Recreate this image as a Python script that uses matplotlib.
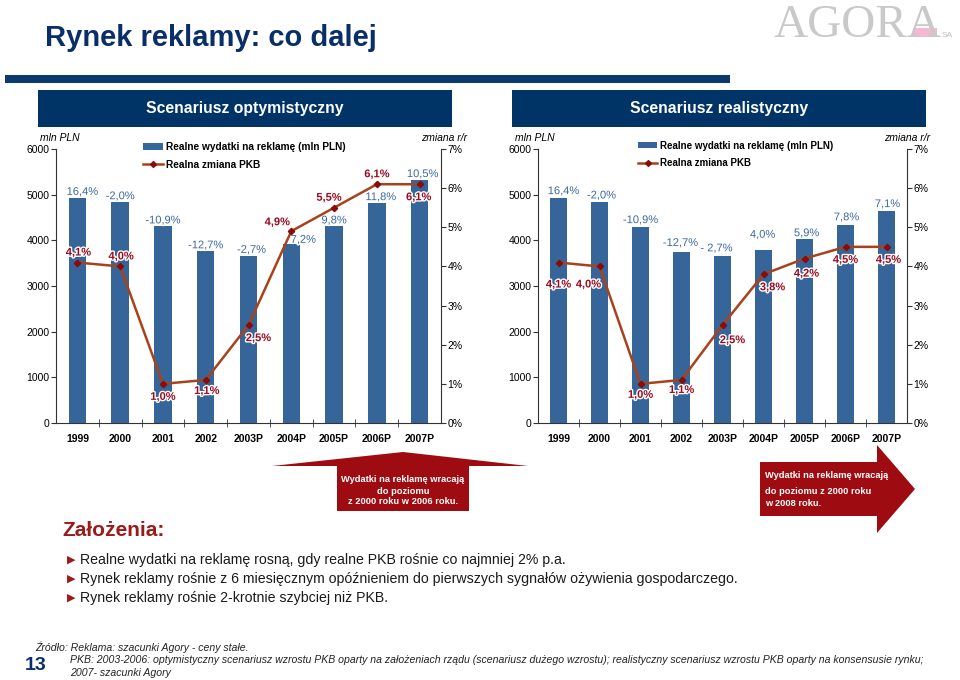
import matplotlib
matplotlib.use('Agg')
import matplotlib.pyplot as plt
import matplotlib.patheffects as pe
from matplotlib.patches import Rectangle, Polygon, Patch
from matplotlib.lines import Line2D
import numpy as np

plt.rcParams['font.family'] = ['Liberation Sans', 'DejaVu Sans']

# data
years = ['1999', '2000', '2001', '2002', '2003P', '2004P', '2005P', '2006P', '2007P']
opt_spend = [4930, 4835, 4305, 3760, 3660, 3925, 4305, 4815, 5320]
opt_spend_chg = ['16,4%', '-2,0%', '-10,9%', '-12,7%', '-2,7%', '7,2%', '9,8%', '11,8%', '10,5%']
opt_gdp = [4.1, 4.0, 1.0, 1.1, 2.5, 4.9, 5.5, 6.1, 6.1]
real_spend = [4925, 4830, 4290, 3745, 3650, 3795, 4025, 4330, 4640]
real_spend_chg = ['16,4%', '-2,0%', '-10,9%', '-12,7%', '- 2,7%', '4,0%', '5,9%', '7,8%', '7,1%']
real_gdp = [4.1, 4.0, 1.0, 1.1, 2.5, 3.8, 4.2, 4.5, 4.5]

# label offsets in pixels (dx, dy)
opt_bar_off = [(5, 6), (0, 6), (0, 6), (0, 6), (3, 6), (12, 4), (0, 6), (4, 6), (3, 6)]
opt_gdp_off = [(1, 10), (1, 10), (0, -13), (1, -11), (10, -13), (-14, 9), (-5, 10), (0, 10), (-1, -13)]
real_bar_off = [(5, 7), (2, 7), (0, 7), (-1, 9), (-6, 8), (-1, 15), (2, 6), (1, 8), (1, 7)]
real_gdp_off = [(0, -22), (-11, -18), (0, -11), (0, -10), (10, -15), (9, -13), (2, -15), (0, -13), (2, -13)]

NAVY = '#0b3a6f'
BAR = '#366699'
BARTXT = '#3d68a0'
LINE = '#a8421c'
MARK = '#8b0a0a'
RED = '#9e0b10'
W, H = 960, 680


def fx(px):
    return px / W


def fy(py):
    return 1 - py / H


def pct(v):
    return ('%.1f' % v).replace('.', ',') + '%'


fig = plt.figure(figsize=(9.6, 6.8), dpi=100)


def draw_chart(rect, spend, spend_chg, gdp, bar_off, gdp_off, leg_xy, leg_fs):
    ax = fig.add_axes(rect)
    x = np.arange(len(years))
    ax.bar(x, spend, width=0.41, color=BAR, zorder=2)
    ax.set_xlim(-0.5, len(years) - 0.5)
    ax.set_ylim(0, 6000)
    ax.set_yticks(range(0, 7000, 1000))
    ax.set_xticks(x)
    ax.set_xticklabels(years, fontsize=7.5, fontweight='bold')
    ax.set_xticks(np.arange(0.5, len(years) - 1, 1), minor=True)
    ax.tick_params(axis='x', which='major', length=0, pad=8)
    ax.tick_params(axis='x', which='minor', length=6, direction='inout', color='#333333')
    ax.tick_params(axis='y', length=3.5, pad=1, labelsize=7.5, color='#333333')
    for s in ['top', 'right']:
        ax.spines[s].set_visible(False)
    for s in ['left', 'bottom']:
        ax.spines[s].set_color('#333333')

    for i, (v, t) in enumerate(zip(spend, spend_chg)):
        ax.annotate(t, (x[i], v), xytext=bar_off[i], textcoords='offset pixels',
                    ha='center', va='center', fontsize=8, color=BARTXT,
                    path_effects=[pe.withStroke(linewidth=2, foreground='white')], zorder=5)

    ax2 = ax.twinx()
    ax2.set_ylim(0, 7)
    ax2.set_yticks(range(0, 8))
    ax2.set_yticklabels(['%d%%' % v for v in range(0, 8)])
    ax2.tick_params(axis='y', length=3.5, pad=1, labelsize=7.5, color='#333333')
    for s in ['top', 'left', 'bottom']:
        ax2.spines[s].set_visible(False)
    ax2.spines['right'].set_color('#333333')
    ax2.plot(x, gdp, color=LINE, lw=1.8, marker='D', ms=3.2, mfc=MARK, mec=MARK, zorder=3)
    for i, v in enumerate(gdp):
        ax2.annotate(pct(v), (x[i], v), xytext=gdp_off[i], textcoords='offset pixels',
                     ha='center', va='center', fontsize=8, fontweight='bold', color='#9a0a1e',
                     path_effects=[pe.withStroke(linewidth=2, foreground='white')], zorder=5)

    handles = [Patch(facecolor=BAR, edgecolor='none'),
               Line2D([0], [0], color=LINE, lw=1.8, marker='D', ms=3, mfc=MARK, mec=MARK)]
    ax2.legend(handles, ['Realne wydatki na reklamę (mln PLN)', 'Realna zmiana PKB'],
               loc='upper left', bbox_to_anchor=leg_xy, frameon=False,
               prop={'size': leg_fs, 'weight': 'bold'}, handlelength=2.0, handleheight=0.6,
               borderpad=0, labelspacing=0.75, handletextpad=0.3, borderaxespad=0)
    return ax, ax2


draw_chart([fx(56), fy(423), 385 / W, 274 / H], opt_spend, opt_spend_chg, opt_gdp,
           opt_bar_off, opt_gdp_off, (0.226, 1.025), 7.3)
draw_chart([fx(538), fy(423), 369 / W, 274 / H], real_spend, real_spend_chg, real_gdp,
           real_bar_off, real_gdp_off, (0.271, 1.03), 7.0)

# axis unit captions
for cx, t in [(60, 'mln PLN'), (444, 'zmiana r/r'), (535, 'mln PLN'), (907, 'zmiana r/r')]:
    fig.text(fx(cx), fy(138), t, ha='center', va='center', fontsize=7.5, style='italic')

# title + logo
fig.text(fx(45), fy(38), 'Rynek reklamy: co dalej', ha='left', va='center',
         fontsize=21, fontweight='bold', color='#0a2e6a')
fig.add_artist(Rectangle((fx(913), fy(37)), 24 / W, 9 / H, transform=fig.transFigure,
                         color='#f5b8d2', lw=0, zorder=1))
fig.text(fx(773), fy(37), 'AGORA', ha='left', va='baseline', fontsize=34,
         family='Liberation Serif', color='#c9c9c9', zorder=2)
fig.text(fx(942), fy(37), 'SA', ha='left', va='baseline', fontsize=6, color='#bbbbbb')

# header bar and scenario boxes
fig.add_artist(Rectangle((fx(5), fy(83)), 725 / W, 8 / H, transform=fig.transFigure,
                         color=NAVY, lw=0))
for x0, x1, t in [(38, 452, 'Scenariusz optymistyczny'), (512, 926, 'Scenariusz realistyczny')]:
    fig.add_artist(Rectangle((fx(x0), fy(127)), (x1 - x0) / W, 37 / H,
                             transform=fig.transFigure, color='#003366', lw=0))
    fig.text(fx((x0 + x1) / 2), fy(108), t, ha='center', va='center', fontsize=11.3,
             fontweight='bold', color='white')

# arrows
up = [(337, 511), (337, 466), (272, 466), (403, 452), (528, 466), (469, 466), (469, 511)]
fig.add_artist(Polygon([(fx(a), fy(b)) for a, b in up], closed=True, transform=fig.transFigure,
                       color=RED, lw=0, zorder=10))
for yy, t in [(479, 'Wydatki na reklamę wracają'), (491, 'do poziomu'), (502, 'z 2000 roku w 2006 roku.')]:
    fig.text(fx(403), fy(yy), t, ha='center', va='center', fontsize=6.7, fontweight='bold',
             color='white', zorder=11)
right = [(760, 462), (877, 462), (877, 445), (915, 489), (877, 533), (877, 516), (760, 516)]
fig.add_artist(Polygon([(fx(a), fy(b)) for a, b in right], closed=True, transform=fig.transFigure,
                       color=RED, lw=0, zorder=10))
for yy, t in [(476, 'Wydatki na reklamę wracają'), (492, 'do poziomu z 2000 roku'), (504, 'w 2008 roku.')]:
    fig.text(fx(765), fy(yy), t, ha='left', va='center', fontsize=6.7, fontweight='bold',
             color='white', zorder=11)

# assumptions
fig.text(fx(62), fy(530), 'Założenia:', ha='left', va='center', fontsize=15,
         fontweight='bold', color='#9b1b1b')
bullets = ['Realne wydatki na reklamę rosną, gdy realne PKB rośnie co najmniej 2% p.a.',
           'Rynek reklamy rośnie z 6 miesięcznym opóźnieniem do pierwszych sygnałów ożywienia gospodarczego.',
           'Rynek reklamy rośnie 2-krotnie szybciej niż PKB.']
for yy, t in zip([560, 579, 598], bullets):
    fig.text(fx(67), fy(yy), '▶', ha='left', va='center', fontsize=8, color='#9b1b1b',
             family='DejaVu Sans')
    fig.text(fx(80), fy(yy), t, ha='left', va='center', fontsize=10.2, color='#1a1a1a')

# source note
fig.text(fx(35), fy(647), 'Źródło: Reklama: szacunki Agory - ceny stałe.', ha='left', va='center',
         fontsize=7.6, style='italic', color='#222222')
fig.text(fx(70), fy(660), 'PKB: 2003-2006: optymistyczny scenariusz wzrostu PKB oparty na założeniach rządu '
         '(scenariusz dużego wzrostu); realistyczny scenariusz wzrostu PKB oparty na konsensusie rynku;',
         ha='left', va='center', fontsize=7.6, style='italic', color='#222222')
fig.text(fx(70), fy(673), '2007- szacunki Agory', ha='left', va='center', fontsize=7.6,
         style='italic', color='#222222')
fig.text(fx(25), fy(665), '13', ha='left', va='center', fontsize=14, fontweight='bold', color='#0a2e6a')

fig.savefig('out.png', dpi=100)
